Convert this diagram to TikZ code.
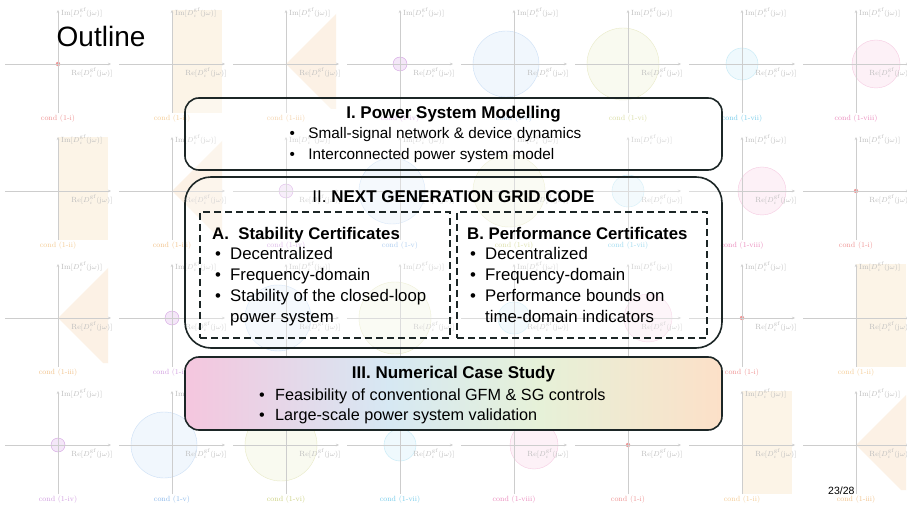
\documentclass[tikz,border=0pt]{standalone}
\usepackage{fontspec}
\setsansfont{Liberation Sans}
\usetikzlibrary{arrows.meta, positioning, calc}
\definecolor{boxborder}{RGB}{28,38,38}
\definecolor{axisgray}{RGB}{205,205,205}
\definecolor{labelgray}{RGB}{190,190,190}
\definecolor{condi}{RGB}{240,150,150}
\definecolor{condii}{RGB}{245,205,150}
\definecolor{condiii}{RGB}{242,195,140}
\definecolor{condiv}{RGB}{210,160,225}
\definecolor{condv}{RGB}{140,185,235}
\definecolor{condvi}{RGB}{205,210,130}
\definecolor{condvii}{RGB}{120,205,235}
\definecolor{condviii}{RGB}{235,140,190}
\definecolor{casepink}{RGB}{245,198,222}
\definecolor{caseblue}{RGB}{214,232,243}
\definecolor{casegreen}{RGB}{230,241,216}
\definecolor{casepeach}{RGB}{252,224,200}
\pgfdeclarehorizontalshading{casegrad}{100bp}{color(0bp)=(casepink); color(25bp)=(casepink); color(44bp)=(caseblue); color(58bp)=(casegreen); color(75bp)=(casepeach); color(100bp)=(casepeach)}
\tikzset{
  sectbox/.style={
    draw=boxborder,
    line width=1.6pt,
    rounded corners=14pt,
    minimum width=537pt,
    inner sep=0pt
  },
  certbox/.style={
    draw=boxborder,
    line width=1.4pt,
    dash pattern=on 7pt off 4pt,
    minimum width=250pt,
    minimum height=126pt,
    inner sep=0pt
  },
  heading/.style={font=\sffamily\bfseries\fontsize{17}{20}\selectfont, inner sep=0pt, anchor=base},
  subheading/.style={font=\sffamily\bfseries\fontsize{16.8}{20}\selectfont, inner sep=0pt, anchor=base west},
  itemlist/.style={inner sep=0pt, anchor=base west, align=left},
  plotlabel/.style={font=\fontsize{7.5}{8}\selectfont, text=labelgray, inner sep=0pt},
  axis/.style={draw=axisgray, line width=0.7pt, -{Stealth[length=3pt,width=2.5pt]}}
}

\begin{document}
\begin{tikzpicture}[x=1pt, y=-1pt]
\useasboundingbox (0,0) rectangle (907,510);
\fill[white] (0,0) rectangle (907,510);

% faded plots in the background
\foreach \r in {0,...,3}{
  \foreach \c in {0,...,7}{
    \pgfmathtruncatemacro{\k}{mod(\r+\c,8)+1}
    \coordinate (o) at (58+114*\c, 64+127*\r);
    \ifcase\k\or
      \fill[condi] (o) circle (2.2pt);
    \or
      \fill[condii, opacity=.22] ($(o)+(0,-54)$) rectangle ($(o)+(50,49)$);
    \or
      \fill[condiii, opacity=.22] (o) -- ++(50,-50) -- ++(0,95) -- ++(-5,0) -- cycle;
    \or
      \draw[condiv, fill=condiv!25] (o) circle (7pt);
    \or
      \draw[condv!45, fill=condv!12] ($(o)+(-8,0)$) circle (33pt);
    \or
      \draw[condvi!45, fill=condvi!12] ($(o)+(-5,0)$) circle (36pt);
    \or
      \draw[condvii!45, fill=condvii!12] (o) circle (16pt);
    \or
      \draw[condviii!45, fill=condviii!12] ($(o)+(20,0)$) circle (24pt);
    \fi
    \draw[axis] ($(o)+(-53,0)$) -- ($(o)+(53,0)$);
    \draw[axis] ($(o)+(0,49)$) -- ($(o)+(0,-54)$);
    \node[plotlabel, anchor=west] (im-\r-\c) at ($(o)+(3,-51)$) {$\mathrm{Im}[D_i^{\mathrm{gf}}(\mathrm{j}\omega)]$};
    \node[plotlabel] (re-\r-\c) at ($(o)+(34,9)$) {$\mathrm{Re}[D_i^{\mathrm{gf}}(\mathrm{j}\omega)]$};
    \node[plotlabel, text=cond\romannumeral\k] (cond-\r-\c) at ($(o)+(0,55)$) {cond (1-\romannumeral\k)};
  }
}

\node[anchor=base west, inner sep=0pt, font=\sffamily\fontsize{28}{30}\selectfont] (title) at (56.5,47) {Outline};

% section boxes
\node[sectbox, minimum height=72pt, fill=white, fill opacity=.3] (modelling) at (453.5,134) {};
\node[sectbox, minimum height=171pt, rounded corners=26pt, fill=white, fill opacity=.3] (gridcode) at (453.5,262.5) {};
\node[sectbox, minimum height=73pt, shading=casegrad] (casestudy) at (453.5,393.5) {};
\node[certbox] (stability) at (325,275) {};
\node[certbox] (performance) at (582,275) {};

\node[heading] (modtitle) at (453.5,119) {I. Power System Modelling};
\node[itemlist, font=\sffamily\fontsize{15.3}{21}\selectfont] (modlist) at (289.3,139)
{\begin{tabular}[t]{@{}l@{\hspace{13.6pt}}l@{}}
\textbullet & Small-signal network \& device dynamics\\
\textbullet & Interconnected power system model
\end{tabular}};

\node[heading] (gridtitle) at (453.5,203) {\mdseries II. \bfseries NEXT GENERATION GRID CODE};

\node[subheading] (stabtitle) at (212,240) {A.\ \ Stability Certificates};
\node[itemlist, font=\sffamily\fontsize{16.8}{20.7}\selectfont] (stablist) at (215,260)
{\begin{tabular}[t]{@{}l@{\hspace{9.1pt}}l@{}}
\textbullet & Decentralized\\
\textbullet & Frequency-domain\\
\textbullet & Stability of the closed-loop\\
 & power system
\end{tabular}};

\node[subheading] (perftitle) at (467,240) {B. Performance Certificates};
\node[itemlist, font=\sffamily\fontsize{16.8}{20.7}\selectfont] (perflist) at (470,260)
{\begin{tabular}[t]{@{}l@{\hspace{9.1pt}}l@{}}
\textbullet & Decentralized\\
\textbullet & Frequency-domain\\
\textbullet & Performance bounds on\\
 & time-domain indicators
\end{tabular}};

\node[heading] (casetitle) at (453.5,378) {III. Numerical Case Study};
\node[itemlist, font=\sffamily\fontsize{16.2}{20}\selectfont] (caselist) at (258.9,400)
{\begin{tabular}[t]{@{}l@{\hspace{10.4pt}}l@{}}
\textbullet & Feasibility of conventional GFM \& SG controls\\
\textbullet & Large-scale power system validation
\end{tabular}};

\node[anchor=base west, inner sep=0pt, font=\sffamily\fontsize{10.5}{12}\selectfont] (pagenum) at (828,494) {23/28};
\end{tikzpicture}
\end{document}
